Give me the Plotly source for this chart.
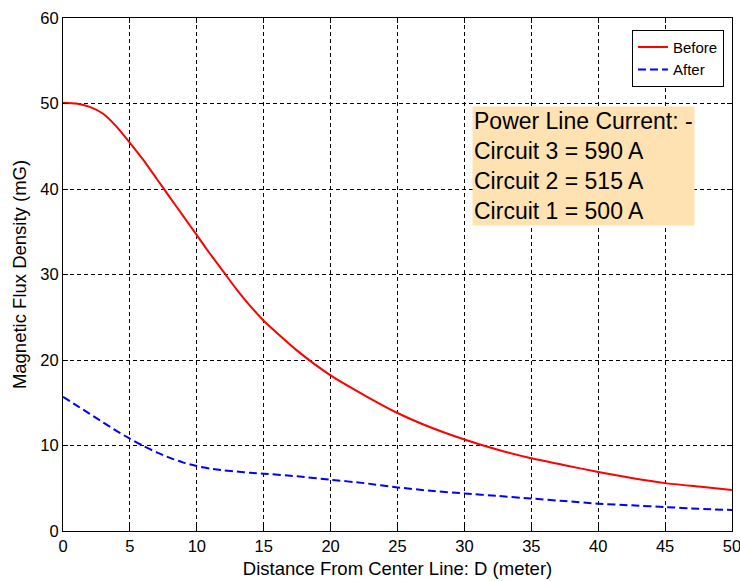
import plotly.graph_objects as go

distance = [0, 1, 2, 3, 4, 5, 6, 7, 8, 9, 10, 11, 12, 13, 14, 15, 17.5, 20, 22.5, 25, 27.5, 30, 32.5, 35, 37.5, 40, 42.5, 45, 47.5, 50]
before = [50.1, 50.0, 49.6, 48.8, 47.3, 45.4, 43.4, 41.2, 39.0, 36.8, 34.6, 32.4, 30.3, 28.2, 26.3, 24.6,
          21.1, 18.2, 15.9, 13.8, 12.1, 10.7, 9.5, 8.5, 7.7, 6.9, 6.2, 5.6, 5.2, 4.8]
after = [15.7, 14.7, 13.7, 12.7, 11.7, 10.8, 9.95, 9.2, 8.55, 8.0, 7.6, 7.3, 7.1, 6.95, 6.8, 6.7,
         6.4, 6.0, 5.6, 5.1, 4.7, 4.4, 4.1, 3.8, 3.5, 3.2, 3.0, 2.8, 2.6, 2.45]
x_ticks = [0, 5, 10, 15, 20, 25, 30, 35, 40, 45, 50]
y_ticks = [0, 10, 20, 30, 40, 50, 60]
note_lines = ["Power Line Current: -", "Circuit 3 = 590 A", "Circuit 2 = 515 A", "Circuit 1 = 500 A"]

font = "Liberation Sans, Arial, sans-serif"

fig = go.Figure()
fig.add_trace(go.Scatter(x=distance, y=before, mode="lines", name="Before",
                         line=dict(color="#ff0000", width=2, shape="spline", smoothing=0.6)))
fig.add_trace(go.Scatter(x=distance, y=after, mode="lines", name="After",
                         line=dict(color="#0000ff", width=2, dash="8px,4px", shape="spline", smoothing=0.6)))

axis_common = dict(showline=True, linecolor="black", linewidth=1, mirror="ticks",
                   ticks="inside", ticklen=5, tickcolor="black",
                   showgrid=True, gridcolor="black", griddash="4px,3px", gridwidth=1,
                   zeroline=False, ticklabeloverflow="allow", automargin=False,
                   tickfont=dict(family=font, size=16.5, color="black"))

fig.update_xaxes(range=[0, 50], tickvals=x_ticks,
                 title=dict(text="Distance From Center Line: D (meter)", font=dict(family=font, size=18.5, color="black"), standoff=8),
                 **axis_common)
fig.update_yaxes(range=[0, 60], tickvals=y_ticks,
                 title=dict(text="Magnetic Flux Density (mG)", font=dict(family=font, size=18.5, color="black"), standoff=8),
                 **axis_common)

fig.add_annotation(x=0.611, y=0.828, xref="paper", yref="paper", xanchor="left", yanchor="top",
                   text="<br>".join(note_lines), align="left", showarrow=False,
                   font=dict(family=font, size=23, color="black"),
                   bgcolor="#ffe2b2", borderpad=1)

fig.update_layout(width=740, height=581, margin=dict(l=63, r=8, t=18, b=50, autoexpand=False),
                  paper_bgcolor="white", plot_bgcolor="white",
                  legend=dict(x=0.988, y=0.977, xanchor="right", yanchor="top",
                              bgcolor="white", bordercolor="black", borderwidth=1,
                              font=dict(family=font, size=15, color="black"),
                              tracegroupgap=0, itemwidth=30),
                  showlegend=True)

fig.write_html("out.html")
